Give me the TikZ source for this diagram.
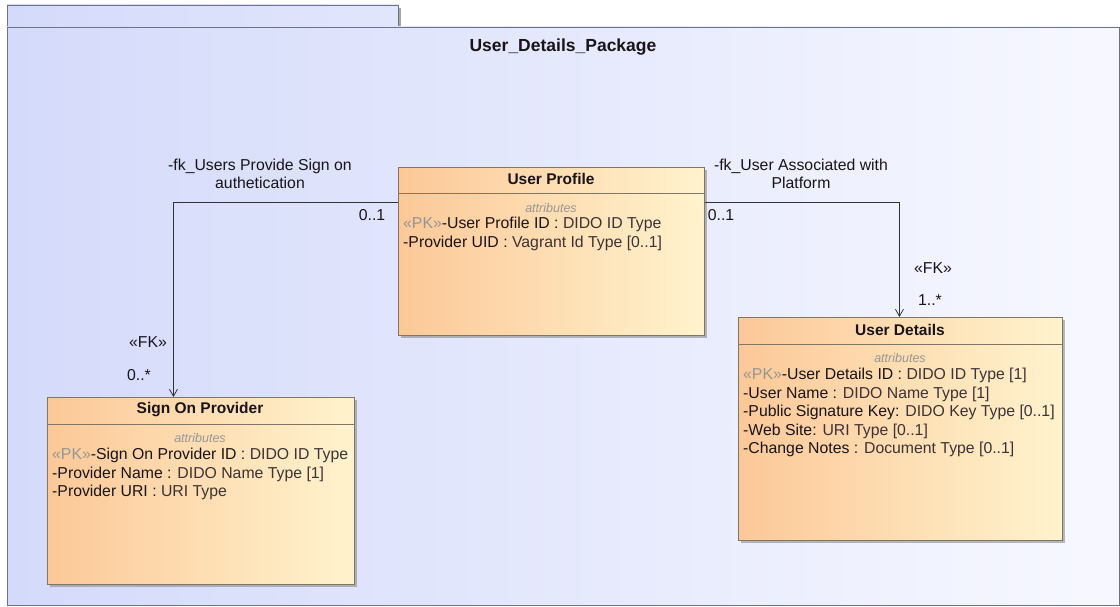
\documentclass[tikz,border=0pt]{standalone}
\usepackage{fontspec}
\setmainfont{Liberation Sans}
\usetikzlibrary{arrows.meta,shadows}

\definecolor{pkgA}{RGB}{212,218,250}
\definecolor{pkgB}{RGB}{247,248,255}
\definecolor{pkgline}{RGB}{110,116,135}
\definecolor{boxA}{RGB}{252,200,152}
\definecolor{boxB}{RGB}{255,243,205}
\definecolor{boxline}{RGB}{128,118,100}
\definecolor{txtdark}{RGB}{25,20,25}
\definecolor{txttype}{RGB}{60,50,55}
\definecolor{pkgray}{RGB}{150,150,150}

\tikzset{
  classbox/.style={draw=boxline, line width=0.9pt, left color=boxA, right color=boxB,
    anchor=north west, inner sep=0pt,
    drop shadow={shadow xshift=2.5pt, shadow yshift=-2.5pt, fill=black!45, opacity=0.6}},
  classtitle/.style={font=\fontsize{15.5}{18}\bfseries\selectfont, text=txtdark, inner sep=0pt},
  attrlabel/.style={font=\fontsize{12.5}{15}\itshape\selectfont, text=pkgray, inner sep=0pt},
  attr/.style={anchor=west, font=\fontsize{15.8}{18}\selectfont, text=txtdark, inner sep=0pt},
  assoc/.style={draw=black!80, line width=0.8pt, -{Straight Barb[length=7pt,width=8pt]}},
  asslabel/.style={font=\fontsize{15.8}{18.5}\selectfont, text=txtdark, align=center, inner sep=0pt},
}
\newcommand{\pk}{\textcolor{pkgray}{«PK»}}
\newcommand{\ty}[1]{\textcolor{txttype}{#1}}

\begin{document}
\begin{tikzpicture}[x=1pt,y=-1pt]
\useasboundingbox (0,0) rectangle (1120,607);

% package
\fill[black!35] (10,8) rectangle (401,27);
\draw[pkgline, line width=0.9pt, left color=pkgA, right color=pkgA!60!pkgB] (7,5) rectangle (398,27);
\draw[pkgline, line width=0.9pt, left color=pkgA, right color=pkgB] (7,27) rectangle (1119,605);
\node[classtitle, font=\fontsize{17.5}{20}\bfseries\selectfont] (pkgname) at (563,47) {User\_Details\_Package};

% classes
\node[classbox, minimum width=306pt, minimum height=168pt] (prof) at (398,167) {};
\node[classbox, minimum width=307pt, minimum height=187pt] (sop) at (47,397) {};
\node[classbox, minimum width=324pt, minimum height=223pt] (udet) at (738,317) {};

\draw[boxline, line width=0.9pt] ([yshift=-26pt]prof.north west) -- ([yshift=-26pt]prof.north east);
\draw[boxline, line width=0.9pt] ([yshift=-27pt]sop.north west) -- ([yshift=-27pt]sop.north east);
\draw[boxline, line width=0.9pt] ([yshift=-27pt]udet.north west) -- ([yshift=-27pt]udet.north east);

% User Profile
\node[classtitle] (proft) at (551,179) {User Profile};
\node[attrlabel] (profa) at (551,208) {attributes};
\node[attr] (prof1) at (403,224) {\pk-User Profile ID : \ty{DIDO ID Type}};
\node[attr] (prof2) at (403,243) {-Provider UID : \ty{Vagrant Id Type [0..1]}};

% Sign On Provider
\node[classtitle] (sopt) at (200,410) {Sign On Provider};
\node[attrlabel] (sopa) at (200,438) {attributes};
\node[attr] (sop1) at (52,455) {\pk-Sign On Provider ID : \ty{DIDO ID Type}};
\node[attr] (sop2) at (52,474) {-Provider Name : \ty{DIDO Name Type [1]}};
\node[attr] (sop3) at (52,492) {-Provider URI : \ty{URI Type}};

% User Details
\node[classtitle] (udett) at (900,330) {User Details};
\node[attrlabel] (udeta) at (900,358) {attributes};
\node[attr] (udet1) at (743,375) {\pk-User Details ID : \ty{DIDO ID Type [1]}};
\node[attr] (udet2) at (743,394) {-User Name : \ty{DIDO Name Type [1]}};
\node[attr] (udet3) at (743,412) {-Public Signature Key: \ty{DIDO Key Type [0..1]}};
\node[attr] (udet4) at (743,431) {-Web Site: \ty{URI Type [0..1]}};
\node[attr] (udet5) at (743,449) {-Change Notes : \ty{Document Type [0..1]}};

% associations
\draw[assoc] ([yshift=-35pt]prof.north west) -| ([xshift=-27.5pt]sop.north);
\draw[assoc] ([yshift=-35pt]prof.north east) -| ([xshift=-1pt]udet.north);

\node[asslabel] (fk1) at (260,174) {-fk\_Users Provide Sign on\\authetication};
\node[asslabel] (m1a) at (372,215) {0..1};
\node[asslabel] (st1) at (148,342) {«FK»};
\node[asslabel] (m1b) at (139,375) {0..*};

\node[asslabel] (fk2) at (801,174) {-fk\_User Associated with\\Platform};
\node[asslabel] (m2a) at (721,215) {0..1};
\node[asslabel] (st2) at (933,268) {«FK»};
\node[asslabel] (m2b) at (930,300) {1..*};
\end{tikzpicture}
\end{document}
